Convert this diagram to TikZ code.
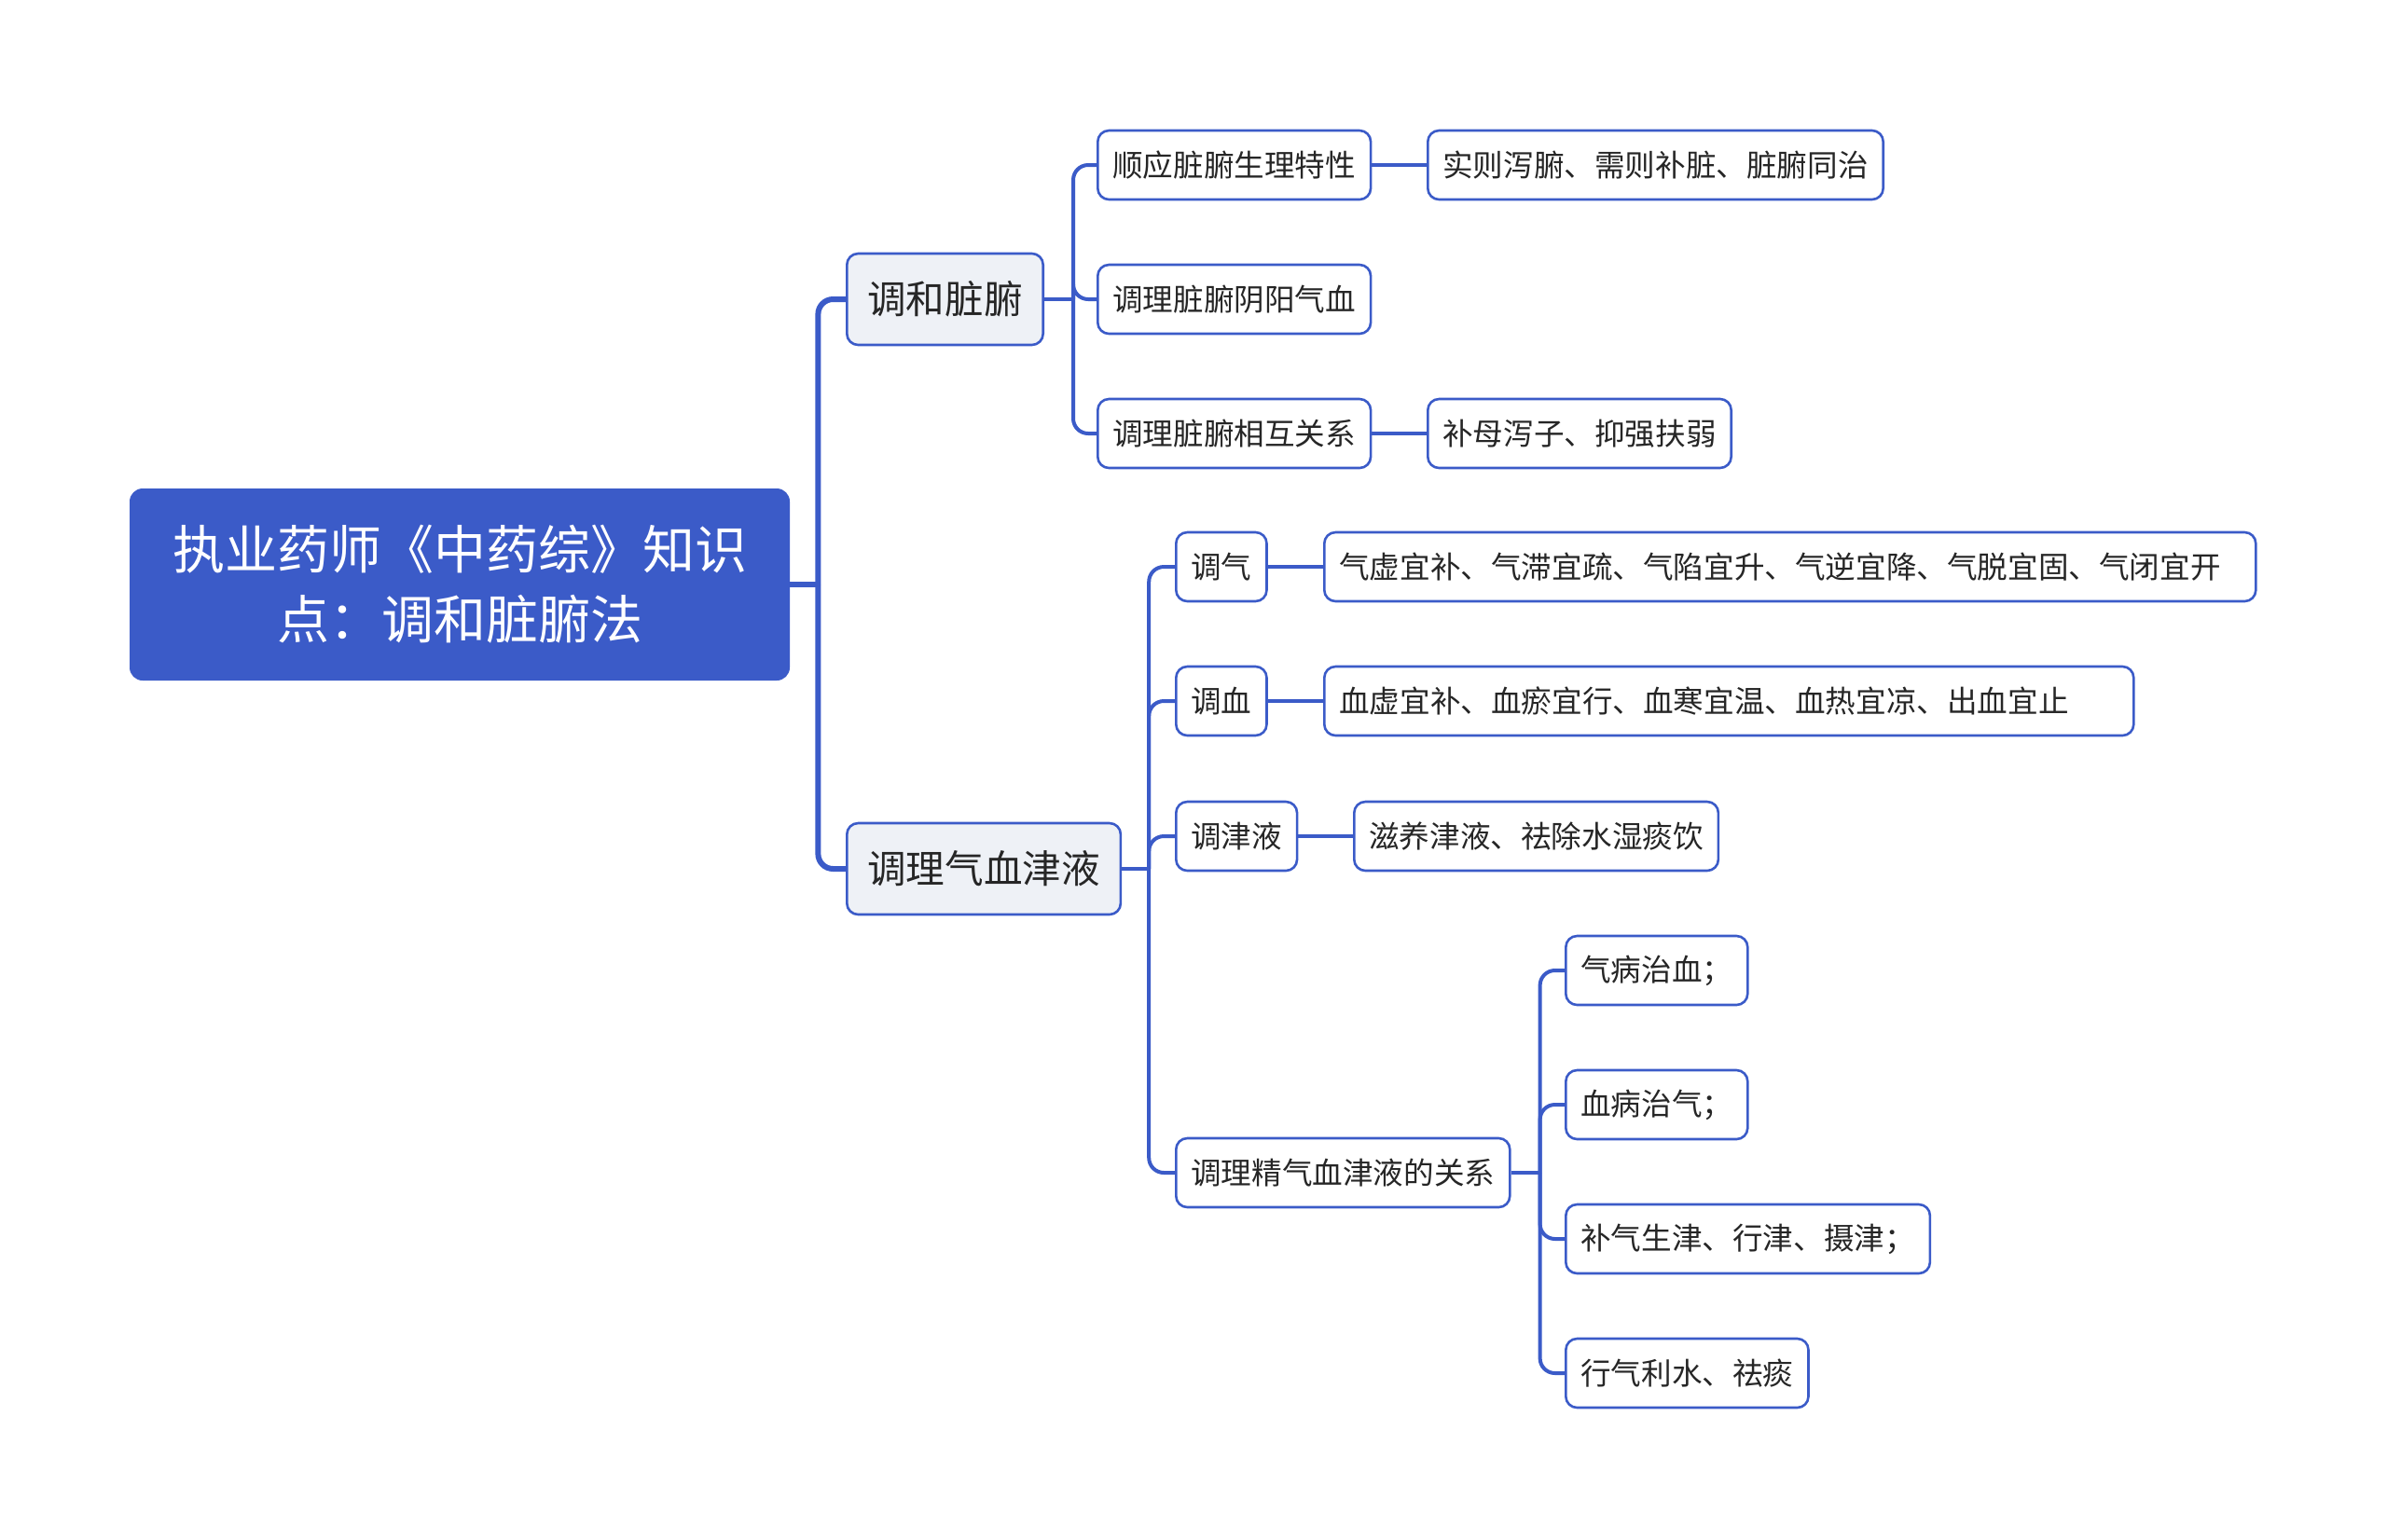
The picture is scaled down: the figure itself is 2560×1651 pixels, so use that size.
\documentclass[tikz,border=0pt]{standalone}
\usepackage{fontspec}
\setmainfont{Noto Sans CJK SC}
\definecolor{mblue}{HTML}{3B5BC8}
\definecolor{lfill}{HTML}{EEF1F6}
\definecolor{tcol}{HTML}{262626}
\tikzset{
  box/.style={draw=mblue, line width=1.3pt, rounded corners=6pt, fill=white, anchor=west,
    minimum height=37pt, inner xsep=8pt, inner ysep=0pt, text=tcol,
    font=\fontsize{16.3pt}{18pt}\selectfont},
  lone/.style={box, fill=lfill, minimum height=49pt, inner xsep=11pt,
    font=\fontsize{20.8pt}{24pt}\selectfont},
  rootbox/.style={fill=mblue, draw=none, rounded corners=7pt, minimum width=354pt,
    minimum height=103pt, align=center, text=white, inner sep=0pt,
    font=\fontsize{28pt}{37.5pt}\selectfont},
  conn/.style={draw=mblue, line width=2pt, rounded corners=8pt},
  connz/.style={conn, line width=3pt}
}
\begin{document}
\begin{tikzpicture}[x=0.5pt,y=-0.5pt]
\useasboundingbox (0,0) rectangle (2560,1651);
% root
\node[rootbox] (root) at (493,627) {执业药师《中药综》知识\\点：调和脏腑法};
% level 1
\node[lone] (a) at (907,321) {调和脏腑};
\node[lone] (b) at (907,932) {调理气血津液};
% level 2 under a
\node[box] (a1) at (1176,177) {顺应脏腑生理特性};
\node[box] (a2) at (1176,321) {调理脏腑阴阳气血};
\node[box] (a3) at (1176,465) {调理脏腑相互关系};
\node[box] (a1x) at (1530,177) {实则泻腑、需则补脏、脏腑同治};
\node[box] (a3x) at (1530,465) {补母泻子、抑强扶弱};
% level 2 under b
\node[box] (b1) at (1260,608) {调气};
\node[box] (b2) at (1260,752) {调血};
\node[box] (b3) at (1260,897) {调津液};
\node[box] (b4) at (1260,1258) {调理精气血津液的关系};
\node[box, text width=483.5pt, align=left] (b1x) at (1419,608) {气虚宜补、气滞宜疏、气陷宜升、气逆宜降、气脱宜固、气闭宜开};
\node[box, text width=418pt, align=left] (b2x) at (1419,752) {血虚宜补、血瘀宜行、血寒宜温、血热宜凉、出血宜止};
\node[box] (b3x) at (1451,897) {滋养津液、祛除水湿痰饮};
\node[box] (c1) at (1678,1041) {气病治血；};
\node[box] (c2) at (1678,1185) {血病治气；};
\node[box] (c3) at (1678,1329) {补气生津、行津、摄津；};
\node[box] (c4) at (1678,1473) {行气利水、祛痰};
% junctions
\coordinate (j0) at ([xshift=15pt]root.east);
\coordinate (ja) at ([xshift=15.5pt]a.east);
\coordinate (jb) at ([xshift=14.5pt]b.east);
\coordinate (jc) at ([xshift=15.5pt]b4.east);
% connectors
\draw[connz] (root.east) -- (j0);
\draw[connz] (j0) |- (a.west);
\draw[connz] (j0) |- (b.west);
\draw[conn] (a.east) -- (ja);
\draw[conn] (ja) |- (a1.west);
\draw[conn] (ja) |- (a2.west);
\draw[conn] (ja) |- (a3.west);
\draw[conn] (a1.east) -- (a1x.west);
\draw[conn] (a3.east) -- (a3x.west);
\draw[conn] (b.east) -- (jb);
\draw[conn] (jb) |- (b1.west);
\draw[conn] (jb) |- (b2.west);
\draw[conn] (jb) |- (b3.west);
\draw[conn] (jb) |- (b4.west);
\draw[conn] (b1.east) -- (b1x.west);
\draw[conn] (b2.east) -- (b2x.west);
\draw[conn] (b3.east) -- (b3x.west);
\draw[conn] (b4.east) -- (jc);
\draw[conn] (jc) |- (c1.west);
\draw[conn] (jc) |- (c2.west);
\draw[conn] (jc) |- (c3.west);
\draw[conn] (jc) |- (c4.west);
\end{tikzpicture}
\end{document}
